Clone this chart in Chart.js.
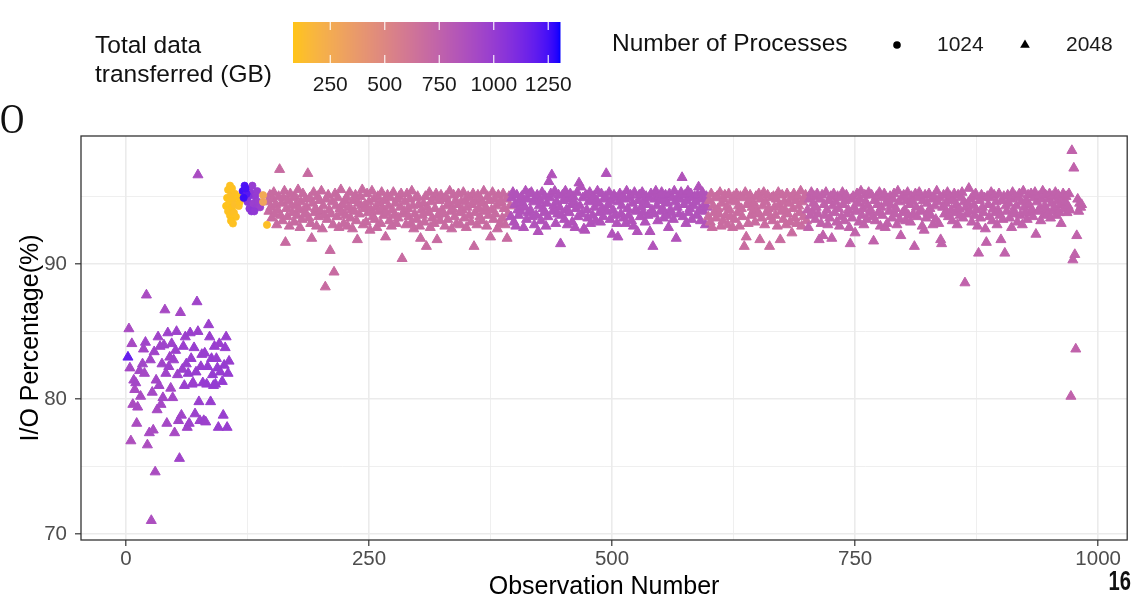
<!DOCTYPE html>
<html>
<head>
<meta charset="utf-8">
<script src="https://cdn.jsdelivr.net/npm/chart.js@4.4.0/dist/chart.umd.min.js"></script>
<style>
    html, body { margin: 0; padding: 0; background: #fff; }
    #wrap { width: 1134px; height: 597px; }
</style>
</head>
<body>
<div id="wrap"><canvas id="GraficoIO" width="1134" height="597"></canvas></div>
<script>

// EIXOS
const xTicks = [0, 125, 250, 375, 500, 625, 750, 875, 1000];
const xLabelTicks = [0, 250, 500, 750, 1000];
const yTicks = [70, 75, 80, 85, 90, 95];
const yLabelTicks = [70, 80, 90];

// ESCALA DE COR (GB)
const gbTicks = [250, 500, 750, 1000, 1250];
const gbMin = 79;
const gbMax = 1304;

// 2048 processos - primeiras observacoes
const leftObs = [
    2, 3, 4, 5, 6, 7, 8, 9, 10, 11, 12, 14, 15, 17, 18, 19, 20, 21, 22, 24,
    25, 26, 27, 28, 29, 30, 31, 32, 33, 34, 35, 36, 37, 38, 39, 40, 41, 42, 43, 44,
    45, 46, 47, 48, 49, 50, 51, 52, 53, 54, 55, 56, 57, 58, 59, 60, 61, 62, 63, 64,
    65, 66, 67, 68, 69, 70, 71, 72, 73, 74, 75, 76, 77, 78, 79, 80, 81, 82, 83, 84,
    85, 86, 87, 88, 89, 90, 91, 92, 93, 94, 95, 96, 97, 99, 100, 101, 102, 103, 104, 105,
    106, 74
];
const leftPct = [
    83.1, 85.2, 82.3, 76.9, 84.1, 79.6, 81.4, 80.7, 81.2, 78.2, 79.4, 82.1, 80.2, 82.6, 83.7, 81.9, 84.2, 87.7, 76.6, 77.5,
    82.9, 71.0, 80.5, 77.7, 83.5, 74.6, 81.4, 79.2, 84.6, 81.0, 83.9, 79.6, 82.6, 80.1, 84.0, 86.6, 81.9, 78.2, 84.9, 82.4,
    83.1, 80.8, 84.1, 80.1, 82.9, 77.5, 83.6, 85.0, 81.8, 78.4, 75.6, 86.4, 78.8, 82.2, 83.9, 81.0, 84.6, 82.6, 77.9, 81.9,
    78.2, 84.9, 83.0, 81.1, 81.2, 83.8, 78.9, 82.0, 87.2, 85.0, 79.8, 78.4, 82.4, 83.3, 81.2, 78.4, 83.4, 78.3, 81.1, 82.4,
    85.5, 84.6, 79.8, 83.0, 81.8, 81.0, 83.9, 81.1, 83.0, 82.3, 77.9, 84.1, 82.0, 81.3, 78.8, 82.5, 83.8, 84.6, 77.9, 81.9,
    82.8, 96.6
];
const leftGb = [
    1180, 900, 920, 870, 910, 890, 920, 900, 930, 890, 900, 930, 900, 940, 930, 920, 950, 900, 880, 910,
    940, 880, 920, 900, 950, 890, 930, 910, 950, 940, 950, 920, 950, 930, 960, 910, 950, 920, 960, 960,
    950, 930, 960, 930, 960, 910, 970, 960, 960, 940, 950, 920, 950, 970, 980, 980, 970, 980, 950, 990,
    960, 980, 990, 990, 980, 990, 970, 990, 950, 970, 980, 960, 990, 980, 1000, 980, 990, 970, 1000, 1000,
    970, 980, 990, 1000, 1000, 1010, 990, 1010, 990, 1000, 990, 980, 1000, 1010, 990, 1000, 990, 980, 990, 1000,
    990, 900
];

// 1024 processos
const circObs = [
    105, 107, 104, 108, 103, 106, 110, 105, 109, 112, 107, 111, 113, 108, 110, 116, 112, 109, 117, 115,
    125, 128, 130, 127, 131, 133, 134, 129, 136, 138, 135, 132, 126,
    120, 122, 124, 121, 123,
    141, 141, 145
];
const circPct = [
    95.5, 95.8, 94.9, 95.1, 94.3, 94.5, 94.8, 93.9, 94.2, 94.4, 93.6, 93.8, 93.5, 93.2, 93.0, 94.3, 95.2, 95.6, 94.6, 95.0,
    94.6, 95.3, 95.8, 94.1, 94.5, 95.0, 94.2, 93.9, 94.6, 94.2, 95.4, 93.9, 95.0,
    95.4, 95.8, 95.2, 94.9, 95.6,
    95.1, 94.6, 92.9
];
const circGb = [
    95, 100, 90, 110, 85, 95, 105, 100, 90, 120, 95, 110, 100, 90, 100, 115, 105, 100, 100, 95,
    1040, 1020, 1000, 1030, 980, 1010, 990, 1040, 980, 970, 1000, 1020, 1060,
    1250, 1230, 1210, 1260, 1240,
    260, 300, 110
];

// 2048 processos - obs 146 ate 983 (uma por observacao)
const bandStart = 146;
const bandPct = [
    /*146*/ 94.6, 93.9, 95.1, 94.2, 93.4, 94.8, 95.3, 93.7, 94.4, 92.9, 94.0, 95.0, 97.0, 93.6, 94.5, 93.2, 94.9, 95.4, 91.6, 94.1,
    /*166*/ 93.5, 94.7, 92.8, 95.2, 94.3, 93.8, 94.9, 93.1, 95.0, 94.4, 93.6, 95.5, 94.1, 92.7, 94.6, 93.3, 95.2, 94.0, 93.7, 94.8,
    /*186*/ 94.2, 96.7, 93.4, 94.9, 93.0, 91.9, 94.5, 95.3, 93.8, 94.1, 92.8, 95.0, 93.5, 94.7, 93.9, 95.4, 92.6, 94.3, 93.6, 88.3,
    /*206*/ 94.8, 93.3, 95.1, 94.0, 91.0, 93.7, 94.6, 92.9, 89.4, 95.2, 94.3, 93.5, 94.9, 92.7, 94.1, 95.5, 93.8, 94.4, 93.0, 94.7,
    /*226*/ 93.6, 94.9, 92.8, 94.2, 95.3, 93.4, 94.0, 92.6, 94.7, 93.9, 95.1, 93.2, 91.8, 94.5, 93.7, 95.0, 94.3, 95.5, 92.9, 94.1,
    /*246*/ 94.4, 93.1, 95.2, 93.8, 94.6, 92.5, 94.0, 95.4, 93.5, 94.8, 93.3, 94.2, 92.7, 95.0, 93.9, 94.5, 93.0, 95.3, 94.1, 93.6,
    /*266*/ 94.7, 92.0, 93.8, 95.1, 94.3, 93.2, 94.9, 92.8, 94.0, 95.3, 93.6, 94.5, 93.0, 94.8, 93.4, 95.0, 94.2, 95.2, 90.4, 93.7,
    /*286*/ 93.9, 94.6, 92.9, 95.2, 94.1, 93.5, 94.8, 93.0, 95.4, 94.3, 92.6, 93.7, 94.9, 93.3, 95.0, 94.4, 92.8, 91.9, 94.0, 93.6,
    /*306*/ 94.5, 93.1, 95.0, 91.3, 94.2, 93.8, 95.3, 92.7, 94.6, 93.4, 94.9, 93.0, 94.1, 95.2, 91.8, 93.6, 94.7, 93.2, 95.1, 94.0,
    /*326*/ 93.7, 94.8, 92.8, 95.0, 94.3, 93.3, 94.5, 95.4, 93.9, 92.6, 94.1, 95.1, 93.5, 94.7, 93.0, 94.4, 95.2, 93.8, 92.9, 94.6,
    /*346*/ 94.0, 95.3, 93.4, 94.7, 92.7, 94.2, 95.0, 93.6, 94.9, 93.1, 94.4, 95.2, 91.3, 93.8, 94.6, 92.9, 95.1, 94.1, 93.5, 94.8,
    /*366*/ 93.2, 94.5, 95.4, 93.9, 94.2, 92.8, 95.0, 93.6, 94.7, 92.0, 94.0, 95.3, 93.3, 94.8, 93.7, 94.3, 92.6, 95.1, 94.5, 93.0,
    /*386*/ 94.6, 93.4, 95.2, 94.1, 92.9, 94.8, 91.9, 93.7, 95.0, 94.3, 93.5, 94.9, 95.3, 93.1, 94.4, 92.8, 95.1, 94.0, 93.6, 94.7,
    /*406*/ 93.9, 95.0, 94.5, 92.7, 94.2, 95.4, 93.3, 94.8, 93.8, 95.2, 94.0, 95.3, 93.5, 94.6, 92.9, 94.9, 93.6, 95.1, 92.4, 94.3,
    /*426*/ 94.7, 93.2, 95.3, 94.1, 93.8, 95.0, 92.8, 94.5, 93.5, 96.1, 94.9, 95.2, 96.6, 93.9, 94.3, 95.4, 93.0, 94.6, 93.7, 95.1,
    /*446*/ 94.2, 91.5, 93.6, 95.1, 94.7, 93.3, 95.4, 94.0, 92.9, 94.8, 93.8, 95.2, 94.4, 93.1, 95.0, 94.6, 92.7, 94.1, 95.3, 93.5,
    /*466*/ 96.0, 94.3, 95.7, 93.7, 94.9, 92.6, 92.5, 95.1, 94.0, 93.4, 94.6, 95.3, 93.0, 94.8, 93.6, 95.0, 94.2, 93.2, 94.7, 95.4,
    /*486*/ 94.5, 93.8, 93.1, 95.2, 94.1, 93.5, 94.8, 95.0, 96.7, 93.9, 94.4, 95.3, 93.3, 94.7, 92.2, 94.0, 95.1, 93.6, 94.9, 93.0,
    /*506*/ 92.0, 94.6, 95.2, 93.7, 94.3, 95.0, 93.4, 94.8, 93.0, 95.4, 94.1, 93.6, 94.9, 95.1, 93.2, 94.5, 92.8, 95.3, 94.0, 93.9,
    /*526*/ 92.4, 94.7, 95.1, 93.5, 94.2, 95.3, 93.8, 94.6, 93.1, 95.0, 94.4, 93.6, 94.9, 92.4, 95.2, 94.0, 91.3, 93.7, 94.8, 95.4,
    /*546*/ 94.3, 93.2, 95.0, 94.7, 93.9, 95.3, 94.1, 93.4, 94.8, 95.1, 93.6, 94.5, 92.7, 95.2, 94.0, 93.8, 94.9, 93.3, 95.4, 94.6,
    /*566*/ 91.9, 94.2, 95.0, 93.7, 94.8, 95.3, 96.4, 93.5, 94.4, 95.1, 93.0, 94.7, 95.4, 93.8, 94.1, 95.2, 93.3, 94.9, 94.3, 95.0,
    /*586*/ 94.6, 93.6, 95.1, 95.7, 94.0, 93.2, 94.8, 95.3, 93.9, 94.4, 92.9, 95.0, 94.2, 93.5, 94.7, 93.1, 95.2, 92.7, 94.3, 93.8,
    /*606*/ 94.9, 93.4, 95.0, 94.1, 93.7, 95.3, 92.8, 94.5, 93.2, 94.8, 95.1, 93.6, 94.2, 92.9, 95.2, 94.0, 93.5, 94.7, 92.7, 95.0,
    /*626*/ 93.3, 94.6, 95.2, 93.8, 94.3, 92.8, 95.0, 94.1, 93.5, 94.9, 91.3, 95.3, 92.0, 94.4, 93.0, 94.7, 95.1, 93.6, 94.2, 93.9,
    /*646*/ 94.5, 93.1, 95.0, 94.0, 93.7, 95.2, 91.8, 94.8, 93.4, 94.3, 95.3, 92.9, 94.6, 93.8, 95.1, 94.1, 91.3, 93.5, 94.9, 93.2,
    /*666*/ 95.0, 94.2, 93.6, 94.8, 92.8, 95.3, 94.4, 91.8, 93.9, 95.1, 93.3, 94.6, 94.0, 92.9, 95.2, 93.7, 94.5, 93.1, 94.9, 92.3,
    /*686*/ 94.1, 95.2, 93.4, 94.7, 93.0, 95.0, 94.3, 93.8, 95.4, 92.8, 94.6, 93.5, 94.9, 95.1, 93.2, 94.0, 92.7, 94.8, 93.6, 95.3,
    /*706*/ 93.9, 94.5, 95.0, 93.3, 94.2, 95.2, 93.7, 91.8, 94.8, 93.0, 95.1, 92.1, 94.4, 93.6, 95.3, 94.0, 92.9, 94.7, 93.4, 95.0,
    /*726*/ 91.9, 94.3, 95.2, 93.8, 94.6, 93.1, 95.0, 94.1, 92.8, 94.9, 93.5, 95.3, 94.4, 93.2, 94.7, 95.1, 93.7, 94.0, 92.7, 91.5,
    /*746*/ 94.8, 93.4, 95.0, 94.2, 92.3, 93.9, 95.2, 94.5, 93.1, 94.8, 95.4, 93.6, 94.1, 92.9, 95.1, 94.6, 93.3, 94.3, 95.3, 93.8,
    /*766*/ 94.0, 95.1, 93.5, 91.7, 94.7, 93.2, 95.0, 94.4, 93.8, 95.3, 92.8, 94.2, 93.6, 94.9, 95.2, 92.7, 94.5, 93.0, 94.8, 93.9,
    /*786*/ 95.0, 94.3, 93.4, 94.8, 95.2, 93.7, 94.1, 92.9, 95.4, 94.6, 93.3, 92.1, 94.9, 93.8, 95.1, 94.0, 93.2, 94.7, 95.3, 93.6,
    /*806*/ 94.4, 93.1, 95.0, 94.6, 93.7, 91.3, 95.2, 94.2, 93.5, 94.9, 95.3, 93.9, 94.0, 92.8, 94.7, 92.5, 95.1, 93.4, 94.5, 93.8,
    /*826*/ 95.2, 94.1, 93.6, 94.8, 92.9, 95.0, 94.3, 93.3, 95.4, 94.6, 93.0, 94.9, 91.8, 91.5, 94.2, 95.1, 93.7, 94.5, 93.9, 95.3,
    /*846*/ 93.5, 94.7, 95.0, 94.0, 93.2, 94.8, 95.2, 93.8, 94.4, 92.9, 95.1, 94.1, 93.6, 94.9, 95.3, 93.4, 94.6, 88.6, 94.2, 93.7,
    /*866*/ 94.5, 95.6, 93.9, 94.8, 93.1, 95.0, 94.3, 93.6, 95.2, 94.0, 92.8, 90.8, 94.7, 93.4, 95.1, 94.2, 93.8, 94.9, 92.6, 91.6,
    /*886*/ 95.0, 94.4, 93.5, 94.9, 95.3, 93.2, 94.1, 95.1, 93.8, 94.6, 92.9, 94.0, 95.2, 93.6, 91.8, 94.7, 93.3, 95.0, 90.8, 94.3,
    /*906*/ 93.9, 95.1, 94.5, 93.4, 94.8, 92.7, 95.3, 94.0, 93.7, 95.0, 94.3, 93.1, 94.9, 95.2, 93.6, 94.6, 92.9, 95.4, 94.2, 93.8,
    /*926*/ 94.7, 93.3, 95.1, 94.4, 93.8, 95.2, 94.0, 93.5, 94.9, 95.3, 92.2, 94.6, 93.9, 95.0, 94.1, 93.2, 94.8, 95.4, 93.6, 94.3,
    /*946*/ 95.1, 94.0, 93.7, 94.8, 95.2, 93.4, 94.5, 95.0, 93.9, 94.2, 95.3, 93.6, 94.7, 95.1, 93.8, 94.4, 93.0, 94.9, 95.2, 94.1,
    /*966*/ 94.6, 95.0, 93.8, 94.3, 95.2, 94.0, 80.2, 98.4, 90.3, 97.1, 90.7, 83.7, 92.1, 94.8, 93.9, 94.5, 94.2, 94.4
];
// GB por trecho de observacoes
const bandGbFrom = [146, 396, 599, 701];
const bandGbValue = [690, 850, 680, 750];


// COR - interpolacao em Lab (amarelo -> azul)
const corBaixa = '#FFC414';
const corAlta = '#0000FF';

function hexParaRgb(h) {
    return [parseInt(h.slice(1, 3), 16), parseInt(h.slice(3, 5), 16), parseInt(h.slice(5, 7), 16)];
}
function paraLinear(c) {
    c /= 255;
    return c <= 0.04045 ? c / 12.92 : Math.pow((c + 0.055) / 1.055, 2.4);
}
function deLinear(c) {
    const v = c <= 0.0031308 ? 12.92 * c : 1.055 * Math.pow(c, 1 / 2.4) - 0.055;
    return Math.round(Math.min(1, Math.max(0, v)) * 255);
}
function rgbParaLab(rgb) {
    const r = paraLinear(rgb[0]), g = paraLinear(rgb[1]), b = paraLinear(rgb[2]);
    const f = t => t > 0.008856 ? Math.cbrt(t) : 7.787 * t + 16 / 116;
    const x = f((0.4124 * r + 0.3576 * g + 0.1805 * b) / 0.95047);
    const y = f(0.2126 * r + 0.7152 * g + 0.0722 * b);
    const z = f((0.0193 * r + 0.1192 * g + 0.9505 * b) / 1.08883);
    return [116 * y - 16, 500 * (x - y), 200 * (y - z)];
}
function labParaCss(lab) {
    const fy = (lab[0] + 16) / 116, fx = fy + lab[1] / 500, fz = fy - lab[2] / 200;
    const fi = t => t * t * t > 0.008856 ? t * t * t : (t - 16 / 116) / 7.787;
    const x = fi(fx) * 0.95047, y = fi(fy), z = fi(fz) * 1.08883;
    const r = 3.2406 * x - 1.5372 * y - 0.4986 * z;
    const g = -0.9689 * x + 1.8758 * y + 0.0415 * z;
    const b = 0.0557 * x - 0.2040 * y + 1.0570 * z;
    return `rgb(${deLinear(r)}, ${deLinear(g)}, ${deLinear(b)})`;
}
const labBaixa = rgbParaLab(hexParaRgb(corBaixa));
const labAlta = rgbParaLab(hexParaRgb(corAlta));

function corGb(gb) {
    const t = Math.min(1, Math.max(0, (gb - gbMin) / (gbMax - gbMin)));
    return labParaCss(labBaixa.map((v, i) => v + (labAlta[i] - v) * t));
}

function gbDaBanda(obs) {
    let g = bandGbValue[0];
    for (let k = 0; k < bandGbFrom.length; k++) {
        if (obs >= bandGbFrom[k]) g = bandGbValue[k];
    }
    return g;
}

// PONTOS
const pontosEsq = leftObs.map((o, i) => ({ x: o, y: leftPct[i] }));
const coresEsq = leftGb.map(corGb);
const pontosBanda = bandPct.map((p, i) => ({ x: bandStart + i, y: p }));
const coresBanda = bandPct.map((p, i) => corGb(gbDaBanda(bandStart + i)));
const pontosCirc = circObs.map((o, i) => ({ x: o, y: circPct[i] }));
const coresCirc = circGb.map(corGb);

const fonte = "'Liberation Sans', Arial, sans-serif";

// LEGENDA, BORDA E TEXTOS SOLTOS
const extras = {
    id: 'extras',
    afterDraw(chart) {
        const ctx = chart.ctx;
        const a = chart.chartArea;
        ctx.save();

        // borda do painel
        ctx.strokeStyle = '#333333';
        ctx.lineWidth = 1.3;
        ctx.strokeRect(a.left, a.top, a.right - a.left, a.bottom - a.top);

        // barra de cor
        const bx = 293, bw = 267, by = 22, bh = 41;
        for (let i = 0; i < bw; i++) {
            ctx.fillStyle = corGb(gbMin + (i + 0.5) / bw * (gbMax - gbMin));
            ctx.fillRect(bx + i, by, 1.5, bh);
        }
        ctx.strokeStyle = 'rgba(255,255,255,0.9)';
        ctx.lineWidth = 1.2;
        ctx.fillStyle = '#1a1a1a';
        ctx.font = `21px ${fonte}`;
        ctx.textAlign = 'center';
        ctx.textBaseline = 'middle';
        gbTicks.forEach(v => {
            const px = bx + (v - gbMin) / (gbMax - gbMin) * bw;
            ctx.beginPath();
            ctx.moveTo(px, by); ctx.lineTo(px, by + 8);
            ctx.moveTo(px, by + bh - 8); ctx.lineTo(px, by + bh);
            ctx.stroke();
            ctx.fillText(String(v), px, 85);
        });

        // titulos da legenda
        ctx.textAlign = 'left';
        ctx.fillStyle = '#111';
        ctx.font = `24.5px ${fonte}`;
        ctx.fillText('Total data', 95, 46);
        ctx.fillText('transferred (GB)', 95, 75);
        ctx.fillText('Number of Processes', 612, 44);

        // chaves de forma
        ctx.fillStyle = '#000';
        ctx.beginPath();
        ctx.arc(897, 45, 3.8, 0, Math.PI * 2);
        ctx.fill();
        const r = 5.6, tx = 1025, ty = 45;
        ctx.beginPath();
        ctx.moveTo(tx, ty - r);
        ctx.lineTo(tx + r * Math.sin(2 * Math.PI / 3), ty + r / 2);
        ctx.lineTo(tx - r * Math.sin(2 * Math.PI / 3), ty + r / 2);
        ctx.closePath();
        ctx.fill();
        ctx.fillStyle = '#1a1a1a';
        ctx.font = `21px ${fonte}`;
        ctx.fillText('1024', 937, 45);
        ctx.fillText('2048', 1066, 45);

        // restos do slide
        ctx.fillStyle = '#111';
        ctx.save();
        ctx.translate(0, 122);
        ctx.scale(0.8, 1);
        ctx.font = "42px 'Liberation Serif', 'DejaVu Serif', serif";
        ctx.fillText('O', 0, 0);
        ctx.restore();
        ctx.save();
        ctx.translate(1131, 582);
        ctx.scale(0.72, 1);
        ctx.textAlign = 'right';
        ctx.font = `bold 28px ${fonte}`;
        ctx.fillText('16', 0, 0);
        ctx.restore();

        ctx.restore();
    }
};

const eixoGrid = (majores) => ({
    color: '#EBEBEB',
    lineWidth: (c) => (c.tick && majores.includes(c.tick.value)) ? 1.6 : 0.8,
    tickLength: 6,
    tickWidth: 1.2,
    tickColor: (c) => (c.tick && majores.includes(c.tick.value)) ? '#333333' : 'rgba(0,0,0,0)',
});

const ctx = document.getElementById('GraficoIO').getContext('2d');
new Chart(ctx, {
    type: 'scatter',
    data: {
        datasets: [
            {
                label: '1024',
                data: pontosCirc,
                pointStyle: 'circle',
                pointRadius: 3.6,
                pointBorderWidth: 0.8,
                pointBackgroundColor: coresCirc,
                pointBorderColor: coresCirc,
            },
            {
                label: '2048',
                data: pontosBanda,
                pointStyle: 'triangle',
                pointRadius: 5.8,
                pointBorderWidth: 1,
                pointBackgroundColor: coresBanda,
                pointBorderColor: coresBanda,
            },
            {
                label: '2048 inicio',
                data: pontosEsq,
                pointStyle: 'triangle',
                pointRadius: 5.8,
                pointBorderWidth: 1,
                pointBackgroundColor: coresEsq,
                pointBorderColor: coresEsq,
            }
        ]
    },
    options: {
        responsive: false,
        animation: false,
        events: [],
        layout: { padding: { top: 136, right: 6, left: 0, bottom: 0 } },
        plugins: {
            legend: { display: false },
            tooltip: { enabled: false },
        },
        scales: {
            x: {
                type: 'linear',
                min: -46.3,
                max: 1029.9,
                afterBuildTicks: (s) => { s.ticks = xTicks.map(v => ({ value: v })); },
                afterFit: (s) => { s.height = 57; },
                grid: eixoGrid(xLabelTicks),
                border: { display: false },
                ticks: {
                    autoSkip: false,
                    maxRotation: 0,
                    padding: 1,
                    color: '#4D4D4D',
                    font: { family: fonte, size: 20.5 },
                    callback: (v) => xLabelTicks.includes(v) ? String(v) : '',
                },
                title: {
                    display: true,
                    text: 'Observation Number',
                    color: '#000',
                    font: { family: fonte, size: 25, lineHeight: 0.8 },
                    padding: { top: 0, bottom: 0 },
                },
            },
            y: {
                type: 'linear',
                min: 69.56,
                max: 99.48,
                afterBuildTicks: (s) => { s.ticks = yTicks.map(v => ({ value: v })); },
                afterFit: (s) => { s.width = 81; },
                grid: eixoGrid(yLabelTicks),
                border: { display: false },
                ticks: {
                    autoSkip: false,
                    padding: 8,
                    color: '#4D4D4D',
                    font: { family: fonte, size: 20.5 },
                    callback: (v) => yLabelTicks.includes(v) ? String(v) : '',
                },
                title: {
                    display: true,
                    text: 'I/O Percentage(%)',
                    color: '#000',
                    font: { family: fonte, size: 25, lineHeight: 0.92 },
                    padding: { top: 20, bottom: 0 },
                },
            },
        },
    },
    plugins: [extras],
});
</script>
</body>
</html>
